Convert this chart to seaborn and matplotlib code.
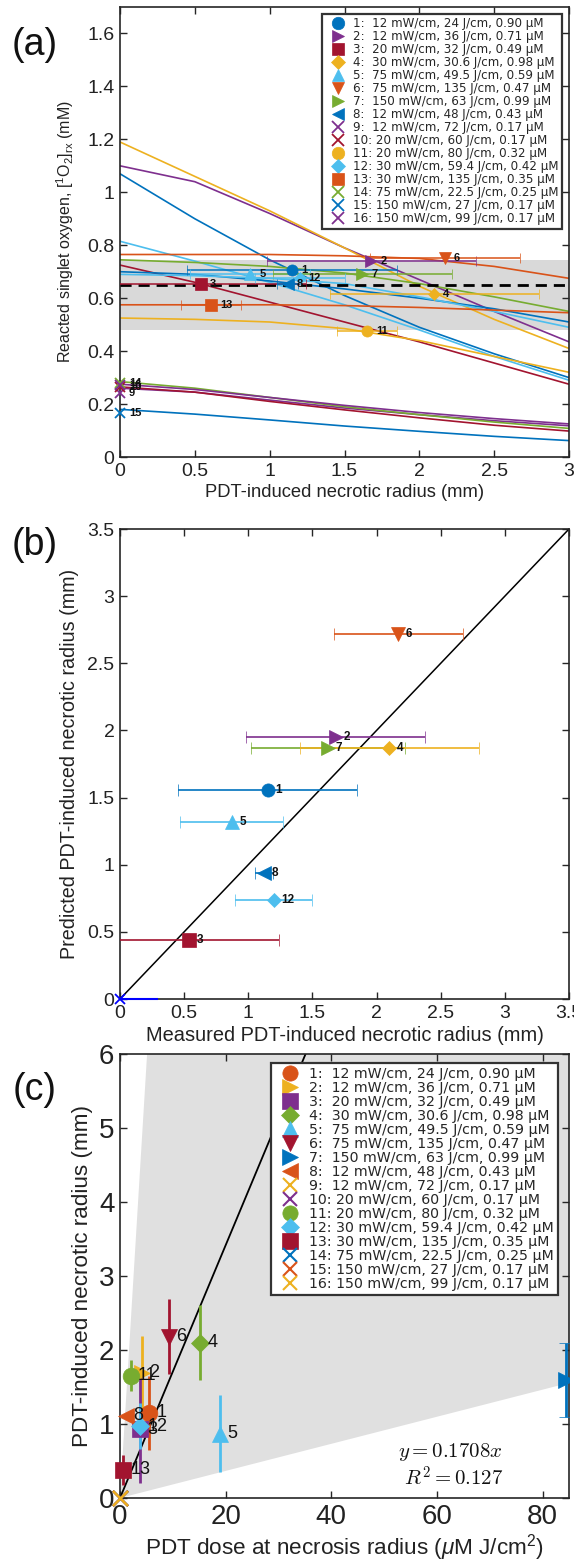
import numpy as np
import pandas as pd
import matplotlib
matplotlib.use("Agg")
import matplotlib.pyplot as plt
import seaborn as sns
from matplotlib.lines import Line2D
from matplotlib.ticker import FuncFormatter

# ---------------- data ----------------
case_ids = [str(i) for i in range(1, 17)]
case_desc = ["1:  12 mW/cm, 24 J/cm, 0.90", "2:  12 mW/cm, 36 J/cm, 0.71",
             "3:  20 mW/cm, 32 J/cm, 0.49", "4:  30 mW/cm, 30.6 J/cm, 0.98",
             "5:  75 mW/cm, 49.5 J/cm, 0.59", "6:  75 mW/cm, 135 J/cm, 0.47",
             "7:  150 mW/cm, 63 J/cm, 0.99", "8:  12 mW/cm, 48 J/cm, 0.43",
             "9:  12 mW/cm, 72 J/cm, 0.17", "10: 20 mW/cm, 60 J/cm, 0.17",
             "11: 20 mW/cm, 80 J/cm, 0.32", "12: 30 mW/cm, 59.4 J/cm, 0.42",
             "13: 30 mW/cm, 135 J/cm, 0.35", "14: 75 mW/cm, 22.5 J/cm, 0.25",
             "15: 150 mW/cm, 27 J/cm, 0.17", "16: 150 mW/cm, 99 J/cm, 0.17"]
markers = ['o', '>', 's', 'D', '^', 'v', '>', '<', 'x', 'x', 'o', 'D', 's', 'x', 'x', 'x']

# panel (a): reacted singlet oxygen curves vs radius
radius_grid = [0, 0.5, 1.0, 1.5, 2.0, 2.5, 3.0]
curve_1 = [1.07, 0.90, 0.745, 0.61, 0.49, 0.39, 0.30]
curve_2 = [1.10, 1.04, 0.92, 0.79, 0.67, 0.55, 0.435]
curve_3 = [0.725, 0.66, 0.585, 0.51, 0.435, 0.355, 0.275]
curve_4 = [1.19, 1.06, 0.93, 0.79, 0.645, 0.52, 0.41]
curve_5 = [0.815, 0.74, 0.66, 0.575, 0.48, 0.38, 0.29]
curve_6 = [0.765, 0.765, 0.765, 0.76, 0.75, 0.72, 0.675]
curve_7 = [0.745, 0.735, 0.72, 0.695, 0.655, 0.605, 0.55]
curve_8 = [0.70, 0.69, 0.665, 0.635, 0.60, 0.56, 0.51]
curve_9 = [0.26, 0.245, 0.215, 0.185, 0.16, 0.137, 0.118]
curve_10 = [0.265, 0.245, 0.21, 0.178, 0.148, 0.12, 0.098]
curve_11 = [0.525, 0.52, 0.51, 0.485, 0.44, 0.38, 0.32]
curve_12 = [0.69, 0.685, 0.675, 0.655, 0.605, 0.55, 0.49]
curve_13 = [0.575, 0.575, 0.575, 0.572, 0.565, 0.555, 0.545]
curve_14 = [0.285, 0.26, 0.225, 0.19, 0.16, 0.132, 0.108]
curve_15 = [0.18, 0.162, 0.14, 0.117, 0.097, 0.078, 0.062]
curve_16 = [0.275, 0.255, 0.225, 0.195, 0.168, 0.145, 0.125]
curves = [curve_1, curve_2, curve_3, curve_4, curve_5, curve_6, curve_7, curve_8,
          curve_9, curve_10, curve_11, curve_12, curve_13, curve_14, curve_15, curve_16]

meas_radius = [1.15, 1.68, 0.54, 2.10, 0.87, 2.17, 1.62, 1.12, 0, 0, 1.65, 1.20, 0.61, 0, 0, 0]
meas_radius_err = [0.7, 0.7, 0.7, 0.7, 0.4, 0.5, 0.6, 0.07, 0, 0, 0.2, 0.3, 0.2, 0, 0, 0]
o2_at_radius = [0.705, 0.74, 0.655, 0.615, 0.69, 0.75, 0.69, 0.655, 0.24, 0.265,
                0.477, 0.675, 0.575, 0.28, 0.165, 0.272]
threshold_mean = 0.65
threshold_low, threshold_high = 0.478, 0.745

# panel (b): predicted vs measured radius
b_cases = [6, 2, 7, 4, 1, 5, 8, 12, 3]
b_measured = [2.17, 1.68, 1.62, 2.10, 1.15, 0.87, 1.12, 1.20, 0.54]
b_measured_err = [0.5, 0.7, 0.6, 0.7, 0.7, 0.4, 0.07, 0.3, 0.7]
b_predicted = [2.72, 1.95, 1.87, 1.87, 1.56, 1.32, 0.94, 0.74, 0.44]
b_zero_err = 0.3

# panel (c): radius vs PDT dose
c_dose = [5.5, 4.1, 3.8, 15.1, 19.0, 9.3, 84.5, 1.2, 0, 0, 2.0, 3.8, 0.6, 0, 0, 0]
c_radius = [1.15, 1.69, 0.93, 2.10, 0.87, 2.18, 1.60, 1.11, 0, 0, 1.65, 0.97, 0.38, 0, 0, 0]
c_radius_err = [0.5, 0.5, 0.73, 0.51, 0.52, 0.51, 0.5, 0, 0, 0, 0.21, 0.31, 0.2, 0, 0, 0]
fit_slope = 0.1708
wedge_upper_slope = 1.17
wedge_lower_slope = 0.0183

# ---------------- style ----------------
BLUE, ORANGE, YELLOW, PURPLE = '#0072BD', '#D95319', '#EDB120', '#7E2F8E'
GREEN, LBLUE, DRED = '#77AC30', '#4DBEEE', '#A2142F'
cycle_a = [BLUE, PURPLE, DRED, YELLOW, LBLUE, ORANGE, GREEN]
cycle_c = [ORANGE, YELLOW, PURPLE, GREEN, LBLUE, DRED, BLUE]
col_a = [cycle_a[i % 7] for i in range(16)]
col_c = [cycle_c[i % 7] for i in range(16)]

sns.set_theme(style="ticks")
plt.rcParams['font.family'] = ['Liberation Sans', 'DejaVu Sans']
plt.rcParams['mathtext.fontset'] = 'custom'
plt.rcParams['mathtext.rm'] = 'Liberation Sans'
plt.rcParams['mathtext.it'] = 'Liberation Sans:italic'
plt.rcParams['mathtext.bf'] = 'Liberation Sans:bold'
AX_COL = '#262626'
TXT = '#222222'

fig = plt.figure(figsize=(5.74, 15.62), dpi=100)
W, H = 574, 1562
def add_axes(left, top, right, bottom):
    return fig.add_axes([left / W, 1 - bottom / H, (right - left) / W, (bottom - top) / H])

axA = add_axes(120, 7, 569, 457)
axB = add_axes(120, 529, 569, 999)
axC = add_axes(120, 1054, 569, 1498)

fmt = FuncFormatter(lambda v, p: ('%g' % round(v, 3)))

def style_axes(ax, fs):
    for s in ax.spines.values():
        s.set_linewidth(1.2)
        s.set_color(AX_COL)
    ax.tick_params(direction='in', top=True, right=True, length=5, width=1.0,
                   colors=AX_COL, labelsize=fs, pad=4)
    ax.tick_params(labelcolor=TXT)
    ax.xaxis.set_major_formatter(fmt)
    ax.yaxis.set_major_formatter(fmt)

def mk_size(m, base):
    if m == 'D':
        return base * 0.8
    if m == 'x':
        return base * 0.9
    return base

leg_labels = [d + ' \u03bcM' for d in case_desc]

# ---------------- panel (a) ----------------
rows = []
for cid, cv in zip(case_ids, curves):
    for xv, yv in zip(radius_grid, cv):
        rows.append({'radius': xv, 'o2': yv, 'case': cid})
dfA = pd.DataFrame(rows)
axA.axhspan(threshold_low, threshold_high, color='#d9d9d9', zorder=0, lw=0)
sns.lineplot(data=dfA, x='radius', y='o2', hue='case', palette=dict(zip(case_ids, col_a)),
             estimator=None, sort=False, legend=False, ax=axA, lw=1.2, zorder=2)
axA.axhline(threshold_mean, color='black', ls=(0, (4, 2.5)), lw=2, zorder=3)
for i in range(16):
    at_edge = meas_radius[i] == 0
    axA.errorbar(meas_radius[i], o2_at_radius[i],
                 xerr=meas_radius_err[i] if meas_radius_err[i] > 0 else None,
                 fmt=markers[i], color=col_a[i], ms=mk_size(markers[i], 8),
                 mew=1.3 if markers[i] == 'x' else 0.5, elinewidth=1.1, capsize=3.5,
                 capthick=1.1, zorder=4, clip_on=not at_edge)
    axA.text(meas_radius[i] + 0.06, o2_at_radius[i], case_ids[i], fontsize=8,
             fontweight='bold', va='center', ha='left', color='#111111', zorder=5)
axA.set_xlim(0, 3)
axA.set_ylim(0, 1.7)
axA.set_xticks(np.arange(0, 3.01, 0.5))
axA.set_yticks(np.arange(0, 1.61, 0.2))
style_axes(axA, 14)
axA.set_xlabel('PDT-induced necrotic radius (mm)', fontsize=13.2, labelpad=3, color=TXT)
axA.set_ylabel('Reacted singlet oxygen, [$^{1}$O$_{2}$]$_{\\mathrm{rx}}$ (mM)',
               fontsize=11.5, labelpad=8, color=TXT)
hA = [Line2D([], [], ls='none', marker=markers[i], color=col_a[i],
             ms=mk_size(markers[i], 9), mew=1.3 if markers[i] == 'x' else 0.5) for i in range(16)]
legA = axA.legend(hA, leg_labels, loc='upper right', prop={'family': 'DejaVu Sans', 'size': 8.6},
                  frameon=True, fancybox=False,
                  edgecolor='#333333', framealpha=1, borderpad=0.3, labelspacing=0.0,
                  handlelength=2.1, handletextpad=0.25, borderaxespad=0.55)
legA.get_frame().set_linewidth(1.6)
legA.set_zorder(10)

# ---------------- panel (b) ----------------
dfB = pd.DataFrame({'measured': b_measured, 'predicted': b_predicted,
                    'err': b_measured_err, 'case': b_cases})
sns.lineplot(x=[0, 3.5], y=[0, 3.5], color='black', lw=1.1, ax=axB, zorder=2)
for _, r in dfB.iterrows():
    i = int(r['case']) - 1
    axB.errorbar(r['measured'], r['predicted'], xerr=r['err'], fmt=markers[i],
                 color=col_a[i], ms=mk_size(markers[i], 9.5), mew=0.5, elinewidth=1.2,
                 capsize=4, capthick=1.2, zorder=4)
    axB.text(r['measured'] + 0.06, r['predicted'], str(int(r['case'])), fontsize=8.5,
             fontweight='bold', va='center', ha='left', color='#111111', zorder=5)
axB.errorbar(0, 0, xerr=[[0], [b_zero_err]], fmt='x', color='#0000FF', ms=7, mew=1.3,
             elinewidth=1.5, capsize=0, zorder=5, clip_on=False)
axB.set_xlim(0, 3.5)
axB.set_ylim(0, 3.5)
axB.set_xticks(np.arange(0, 3.51, 0.5))
axB.set_yticks(np.arange(0, 3.51, 0.5))
style_axes(axB, 14)
axB.set_xlabel('Measured PDT-induced necrotic radius (mm)', fontsize=14.4, labelpad=3, color=TXT)
axB.set_ylabel('Predicted PDT-induced necrotic radius (mm)', fontsize=14.2, labelpad=6, color=TXT)

# ---------------- panel (c) ----------------
xs = np.array([0, 100])
axC.fill_between(xs, wedge_lower_slope * xs, wedge_upper_slope * xs, color='#e0e0e0',
                 lw=0, zorder=0)
sns.lineplot(x=xs, y=fit_slope * xs, color='black', lw=1.3, ax=axC, zorder=2)
for i in range(16):
    e = c_radius_err[i]
    axC.errorbar(c_dose[i], c_radius[i], yerr=e if e > 0 else None, fmt=markers[i],
                 color=col_c[i], ms=mk_size(markers[i], 12), mew=1.6 if markers[i] == 'x' else 0.5,
                 elinewidth=2.0, capsize=5 if i == 6 else 0, capthick=2.0, zorder=4,
                 clip_on=(i == 6))
    if c_radius[i] > 0:
        axC.text(c_dose[i] + 1.4, c_radius[i], case_ids[i], fontsize=13, va='center',
                 ha='left', color='#111111', zorder=5, clip_on=True)
axC.text(72.5, 0.62, '$y = 0.1708x$', fontsize=15, ha='right', va='center',
         math_fontfamily='cm', color='#111111')
axC.text(72.5, 0.27, '$R^2 = 0.127$', fontsize=15, ha='right', va='center',
         math_fontfamily='cm', color='#111111')
axC.set_xlim(0, 85)
axC.set_ylim(0, 6)
axC.set_xticks([0, 20, 40, 60, 80])
axC.set_yticks(np.arange(0, 6.1, 1))
style_axes(axC, 20)
axC.set_xlabel('PDT dose at necrosis radius ($\\mu$M J/cm$^2$)', fontsize=16.2, labelpad=2, color=TXT)
axC.set_ylabel('PDT-induced necrotic radius (mm)', fontsize=16.2, labelpad=4, color=TXT)
hC = [Line2D([], [], ls='none', marker=markers[i], color=col_c[i],
             ms=mk_size(markers[i], 11), mew=1.5 if markers[i] == 'x' else 0.5) for i in range(16)]
legC = axC.legend(hC, leg_labels, loc='upper right', prop={'family': 'DejaVu Sans', 'size': 10.2},
                  frameon=True, fancybox=False,
                  edgecolor='#333333', framealpha=1, borderpad=0.3, labelspacing=0.0,
                  handlelength=2.1, handletextpad=0.3, borderaxespad=0.3,
                  bbox_to_anchor=(0.985, 0.99))
legC.get_frame().set_linewidth(1.6)
legC.set_zorder(10)

# panel letters
for txt, ypix in [('(a)', 45), ('(b)', 545), ('(c)', 1090)]:
    fig.text(35 / W, 1 - ypix / H, txt, fontsize=27, ha='center', va='center', color='#111111')

fig.savefig('out.png', dpi=100)
